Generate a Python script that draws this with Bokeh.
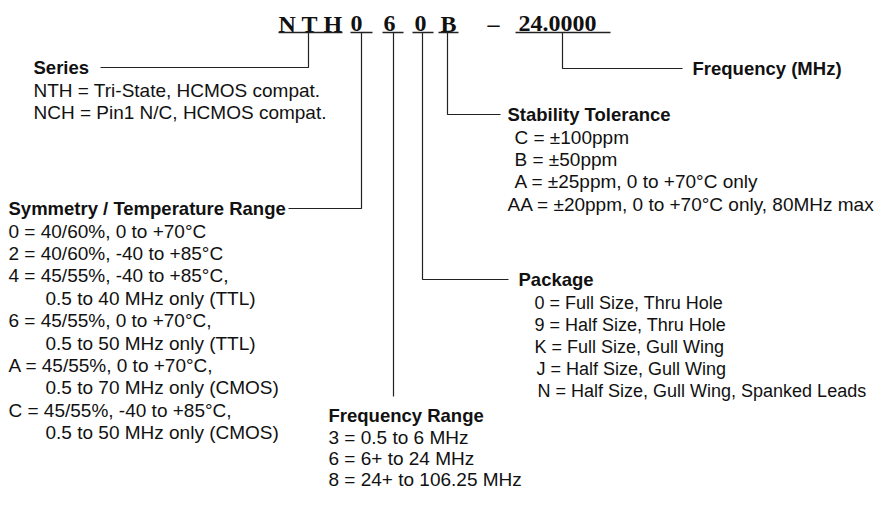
from bokeh.plotting import figure
from bokeh.models import Range1d
from bokeh.core.properties import value
from bokeh.embed import file_html
from bokeh.resources import INLINE

# ---------------- content ----------------
code_parts = ["N", "T", "H", "0", "6", "0", "B", "\u2013", "24.0000"]

series_title = "Series"
series_lines = ["NTH = Tri-State, HCMOS compat.", "NCH = Pin1 N/C, HCMOS compat."]

sym_title = "Symmetry / Temperature Range"
sym_lines = [
    "0 = 40/60%, 0 to +70\u00b0C",
    "2 = 40/60%, -40 to +85\u00b0C",
    "4 = 45/55%, -40 to +85\u00b0C,",
    "0.5 to 40 MHz only (TTL)",
    "6 = 45/55%, 0 to +70\u00b0C,",
    "0.5 to 50 MHz only (TTL)",
    "A = 45/55%, 0 to +70\u00b0C,",
    "0.5 to 70 MHz only (CMOS)",
    "C = 45/55%, -40 to +85\u00b0C,",
    "0.5 to 50 MHz only (CMOS)",
]
sym_indent = [0, 0, 0, 1, 0, 1, 0, 1, 0, 1]

freq_title = "Frequency Range"
freq_lines = ["3 = 0.5 to 6 MHz", "6 = 6+ to 24 MHz", "8 = 24+ to 106.25 MHz"]

pkg_title = "Package"
pkg_lines = [
    "0 = Full Size, Thru Hole",
    "9 = Half Size, Thru Hole",
    "K = Full Size, Gull Wing",
    "J = Half Size, Gull Wing",
    "N = Half Size, Gull Wing, Spanked Leads",
]

stab_title = "Stability  Tolerance"
stab_lines = [
    "C = \u00b1100ppm",
    "B = \u00b150ppm",
    "A = \u00b125ppm, 0 to +70\u00b0C only",
    "AA = \u00b120ppm, 0 to +70\u00b0C only, 80MHz max",
]

fmhz_title = "Frequency (MHz)"

# ---------------- layout (screenshot pixel coordinates) ----------------
W, H = 877, 490
p = figure(width=W, height=H, x_range=Range1d(0, W), y_range=Range1d(H, 0),
           output_backend="svg", toolbar_location=None, min_border=0)
p.axis.visible = False
p.grid.visible = False
p.outline_line_color = None
p.background_fill_color = "white"
p.border_fill_color = "white"

SANS = value("Liberation Sans")
SERIF = value("Liberation Serif")
INK = "#111111"
LINE = "#222222"

# code text on top
code_x = [278, 301, 323, 350, 383, 414, 440, 487, 518]
code_y = 23
p.text(x=code_x, y=[code_y] * len(code_parts), text=code_parts,
       text_font=SERIF, text_font_style="bold", text_font_size="24px",
       text_baseline="alphabetic", text_align="left", text_color=INK)

# underlines
ul_x0 = [278, 350, 382, 412, 438, 515]
ul_x1 = [342, 372, 403, 433, 458, 610]
ul_y = 32
p.segment(x0=ul_x0, y0=[ul_y] * 6, x1=ul_x1, y1=[ul_y] * 6, line_color=LINE, line_width=1.5)

# leader lines
leaders_x = [
    [308, 308, 100],
    [361, 361, 288],
    [393, 393],
    [422, 422, 508],
    [447, 447, 500],
    [562, 562, 682],
]
leaders_y = [
    [32, 67, 67],
    [32, 208, 208],
    [32, 396],
    [32, 279, 279],
    [32, 114, 114],
    [32, 68, 68],
]
p.multi_line(xs=leaders_x, ys=leaders_y, line_color=LINE, line_width=1.2)


def block(title, tx, ty, lines, lx, ly0, step, size="19px", title_size="18.5px"):
    p.text(x=[tx], y=[ty], text=[title], text_font=SANS, text_font_style="bold",
           text_font_size=title_size, text_baseline="middle", text_align="left",
           text_color=INK)
    ys = [ly0 + i * step for i in range(len(lines))]
    p.text(x=lx, y=ys, text=lines, text_font=SANS, text_font_size=size,
           text_baseline="middle", text_align="left", text_color=INK)


block(series_title, 33, 67, series_lines, [33, 33], 90, 22.3)
block(sym_title, 8, 208, sym_lines, [8 + 37 * i for i in sym_indent], 230.5, 22.4)
block(freq_title, 328, 414.5, freq_lines, [328] * 3, 436.5, 21.3)
block(pkg_title, 518, 279, pkg_lines, [534, 534, 534, 536, 537], 302, 22.0, size="18px")
block(stab_title, 507, 114, stab_lines, [514, 514, 514, 507], 136.5, 22.4)
p.text(x=[692], y=[68], text=[fmhz_title], text_font=SANS, text_font_style="bold",
       text_font_size="18.5px", text_baseline="middle", text_align="left", text_color=INK)

open("out.html", "w").write(file_html(p, INLINE))
